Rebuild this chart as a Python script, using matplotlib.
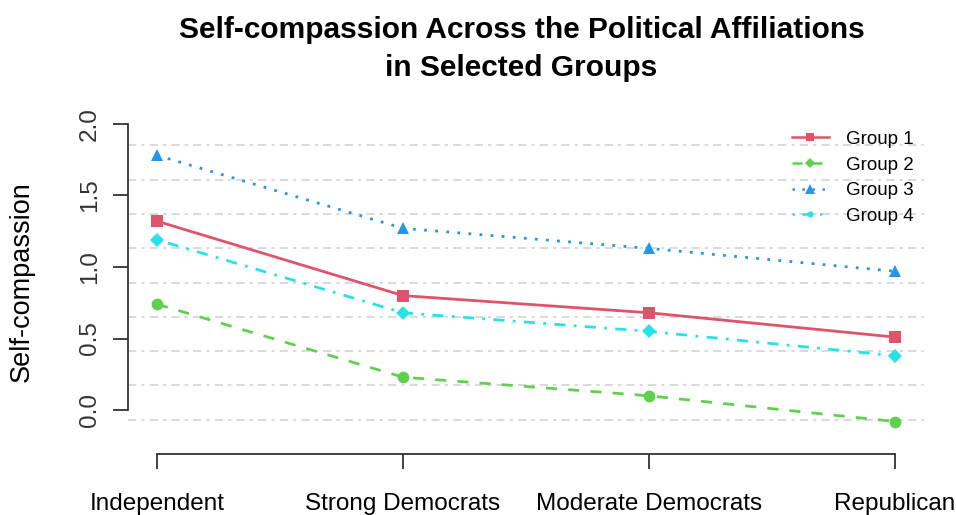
import matplotlib
import matplotlib.pyplot as plt
from matplotlib.lines import Line2D

matplotlib.use("Agg")
plt.rcParams["font.family"] = ["Liberation Sans", "DejaVu Sans"]

# Data.
parties = ["Independent", "Strong Democrats", "Moderate Democrats", "Republican"]
group1 = [1.32, 0.80, 0.68, 0.51]
group2 = [0.74, 0.23, 0.10, -0.08]
group3 = [1.78, 1.27, 1.13, 0.97]
group4 = [1.19, 0.68, 0.55, 0.38]
labels = ["Group 1", "Group 2", "Group 3", "Group 4"]

colors = ["#DF536B", "#61D04F", "#2297E6", "#28E2E5"]
styles = ["-", (0, (4, 4)), (0, (1, 3)), (0, (1, 3, 4, 3))]
markers = ["s", "o", "^", "D"]
msizes = [8.5, 8.5, 9, 7.5]
leg_markers = ["s", "D", "^", "o"]
leg_sizes = [6, 5, 6.5, 4.5]

fig = plt.figure(figsize=(9.56, 5.15), dpi=100)
ax = fig.add_axes([0.1334, 0.1184, 0.8336, 0.6661])

x = list(range(1, len(parties) + 1))
series = [group1, group2, group3, group4]

# dashed grid dividing plot region equally (like R grid())
for k in range(1, 10):
    ax.axhline(-0.307 + k * (2.09 + 0.307) / 10, color="#D3D3D3", lw=1.2,
               ls=(0, (5, 3, 2, 3)), zorder=0)

for vals, c, ls, m, ms in zip(series, colors, styles, markers, msizes):
    ax.plot(x, vals, color=c, ls=ls, lw=2.0, marker=m, markersize=ms,
            markeredgewidth=0, zorder=3)

ax.set_xlim(0.88, 4.12)
ax.set_ylim(-0.307, 2.09)

for side in ["top", "right"]:
    ax.spines[side].set_visible(False)
ax.spines["left"].set_bounds(0, 2)
ax.spines["bottom"].set_bounds(1, 4)
ax.spines["left"].set_color("#333333")
ax.spines["bottom"].set_color("#333333")
ax.spines["left"].set_linewidth(1.3)
ax.spines["bottom"].set_linewidth(1.3)

ax.set_xticks(x)
ax.set_xticklabels(parties, fontsize=17.5)
ax.set_yticks([0, 0.5, 1.0, 1.5, 2.0])
ax.set_yticklabels(["0.0", "0.5", "1.0", "1.5", "2.0"], fontsize=17.5,
                   rotation=90, va="center", color="#333333")
ax.tick_params(axis="both", length=11, width=1.3, color="#333333")
ax.tick_params(axis="x", pad=17)
ax.tick_params(axis="y", pad=8)

fig.text(22 / 956, 0.4534, "Self-compassion", rotation=90,
         ha="center", va="center", fontsize=19.5)

fig.text(0.5455, 0.942, "Self-compassion Across the Political Affiliations",
         ha="center", va="center", fontsize=21.5, fontweight="bold")
fig.text(0.5455, 0.868, "in Selected Groups",
         ha="center", va="center", fontsize=21.5, fontweight="bold")

handles = [Line2D([0], [0], color=c, ls=ls, lw=1.8, marker=m, markersize=s,
                  markeredgewidth=0)
           for c, ls, m, s in zip(colors, styles, leg_markers, leg_sizes)]
ax.legend(handles, labels, loc="upper right", bbox_to_anchor=(1.003, 0.981),
          frameon=False, fontsize=13.5, handlelength=2.0, labelspacing=0.46,
          handletextpad=0.9, borderpad=0.2)

fig.savefig("out.png", dpi=100)
